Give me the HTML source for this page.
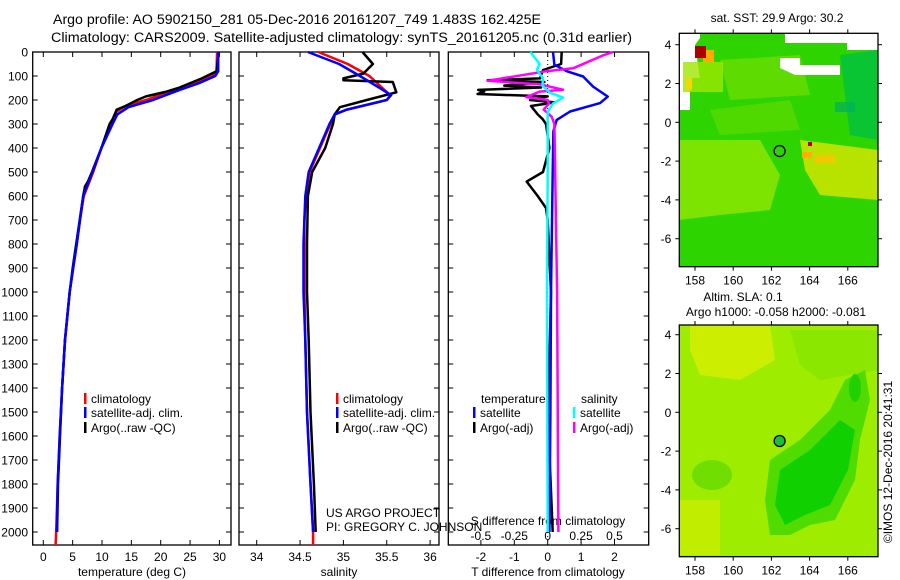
<!DOCTYPE html>
<html><head><meta charset="utf-8">
<style>
html,body{margin:0;padding:0;background:#fff;}
svg{display:block;font-family:"Liberation Sans",sans-serif;}
</style></head>
<body>
<svg id="fig" width="900" height="580" viewBox="0 0 900 580">
<text x="53" y="24" font-size="13.5" textLength="488" lengthAdjust="spacingAndGlyphs">Argo profile: AO 5902150_281 05-Dec-2016 20161207_749 1.483S 162.425E</text>
<text x="51" y="42" font-size="13.5" textLength="581" lengthAdjust="spacingAndGlyphs">Climatology: CARS2009. Satellite-adjusted climatology: synTS_20161205.nc (0.31d earlier)</text>
<g id="maps"></g>
<g id="plots"></g>
</svg>
<script>
// ---------- data ----------
const tempClimDepth = [0,80,100,130,160,200,225,250,300,400,500,600,700,800,900,1000,1200,1400,1600,1800,2000,2054];
const tempClimVal   = [29.6,29.5,28.8,26,22,17.5,14,12.4,11.7,9.9,8.5,6.9,6.25,5.7,5.1,4.5,3.7,3.2,2.8,2.45,2.2,2.1];
const tempSatDepth  = [0,80,100,130,160,200,230,260,300,400,500,600,700,800,900,1000,1200,1400,1600,1800,2000];
const tempSatVal    = [29.8,29.8,29.3,26.5,23,18.7,14.5,12.6,11.8,9.9,8.4,6.8,6.25,5.7,5.1,4.5,3.7,3.2,2.8,2.45,2.3];
const tempArgoDepth = [0,80,110,125,150,165,185,200,225,240,280,300,400,500,540,560,600,700,800,900,1000,1200,1400,1600,1800,2000];
const tempArgoVal   = [29.9,29.5,27,25.5,23,21,17.5,16,14,12.5,11.8,11.3,9.9,8.3,7.6,7.1,6.8,6.2,5.6,5.0,4.5,3.7,3.2,2.85,2.5,2.35];

const salClimDepth = [0,50,100,150,180,200,240,260,300,400,500,600,700,800,1000,1200,1500,1800,2000,2054];
const salClimVal   = [34.71,35.05,35.3,35.45,35.54,35.5,35.04,34.9,34.85,34.73,34.61,34.57,34.55,34.55,34.55,34.56,34.58,34.62,34.65,34.65];
const salSatDepth  = [0,50,100,150,180,200,240,260,300,400,500,600,700,800,1000,1200,1500,1800,2000];
const salSatVal    = [34.59,34.95,35.19,35.42,35.55,35.5,35.04,34.9,34.84,34.72,34.6,34.56,34.55,34.54,34.54,34.56,34.58,34.62,34.65];
const salArgoDepth = [0,50,90,110,118,125,168,200,230,260,300,400,500,600,800,1000,1200,1500,1800,2000];
const salArgoVal   = [35.22,35.34,35.23,35.0,35.0,35.57,35.61,35.27,34.96,34.9,34.88,34.79,34.64,34.59,34.58,34.58,34.6,34.62,34.66,34.68];

const dTSatDepth = [0,53,80,102,144,186,213,248,283,330,500,1000,1500,2000];
const dTSatVal   = [0.16,0.2,0.57,1.06,1.36,1.8,1.57,0.67,0.27,0.17,0.15,0.1,0.08,0.05];
const dTArgoDepth = [0,50,75,110,118,125,140,148,158,165,175,185,200,210,225,260,280,300,400,500,540,600,650,700,1000,1300,1500,2000];
const dTArgoVal   = [0.42,0.4,-0.14,-0.23,-1.8,-0.1,-1.3,-0.2,-2.08,-1.9,-2.1,0.0,-0.53,0.22,-0.5,-0.3,-0.15,-0.05,0.05,-0.14,-0.63,-0.3,-0.05,0.0,0.1,0.05,0.0,0.15];
const dSSatDepth = [0,50,75,110,140,170,190,215,250,300,500,1000,2000];
const dSSatVal   = [-0.13,-0.06,-0.08,-0.035,-0.04,0.017,0.115,0.04,0.0,0.0,0.0,-0.005,0.0];
const dSArgoDepth = [0,15,68,80,120,135,157,165,188,200,215,240,270,300,1000,2000];
const dSArgoVal   = [0.49,0.41,0.19,-0.01,-0.45,-0.06,0.115,-0.06,-0.16,0.0,0.01,-0.03,0.03,0.05,0.07,0.08];

const depthTicks = [0,100,200,300,400,500,600,700,800,900,1000,1100,1200,1300,1400,1500,1600,1700,1800,1900,2000];
const tempTicks = [0,5,10,15,20,25,30];
const salTicks = [34,34.5,35,35.5,36];
const salTickLabels = ["34","34.5","35","35.5","36"];
const dTTicks = [-2,-1,0,1,2];
const dSTicks = [-0.5,-0.25,0,0.25,0.5];
const dSTickLabels = ["-0.5","-0.25","0","0.25","0.5"];
const lonTicks = [158,160,162,164,166];
const latTicks = [4,2,0,-2,-4,-6];

// ---------- helpers ----------
const NS = "http://www.w3.org/2000/svg";
const plots = document.getElementById('plots');
const maps = document.getElementById('maps');
function mk(tag, attrs, parent){ const e=document.createElementNS(NS,tag); for(const k in attrs) e.setAttribute(k,attrs[k]); (parent||plots).appendChild(e); return e; }
function txt(x,y,s,size,anchor,parent){ const t=mk('text',{x:x,y:y,'font-size':size,'text-anchor':anchor||'middle'},parent); t.textContent=s; return t; }
const yD = d => 52 + d*0.24;
const xT = v => 43.3 + v*5.87;
const xS = v => 256.7 + (v-34)*86.7;
const xDT = v => 547.7 + v*33.4;
const xDS = v => 547.7 + v*133.6;

function series(depths, vals, xf, color, w, name){
  let d='';
  for(let i=0;i<depths.length;i++){ d += (i?'L':'M') + xf(vals[i]).toFixed(1) + ' ' + yD(depths[i]).toFixed(1); }
  const p = mk('path',{d:d,fill:'none',stroke:color,'stroke-width':w,'stroke-linejoin':'round'});
  
  
  return p;
}
function frame(x0,x1,name){
  const r = mk('rect',{x:x0,y:52,width:x1-x0,height:493,fill:'none',stroke:'#000','stroke-width':1.3});
  
  
  depthTicks.forEach(d=>{ const y=yD(d);
    mk('line',{x1:x0,y1:y,x2:x0+5,y2:y,stroke:'#000'}); mk('line',{x1:x1-5,y1:y,x2:x1,y2:y,stroke:'#000'}); });
}
function xticks(vals, xf, top){
  vals.forEach(v=>{ const x=xf(v);
    mk('line',{x1:x,y1:545,x2:x,y2:540,stroke:'#000'});
    if(top) mk('line',{x1:x,y1:52,x2:x,y2:57,stroke:'#000'}); });
}

// ---------- panel 1 ----------
frame(32.7,231,'temperature-panel');
depthTicks.forEach(d=>{ const t=txt(28,yD(d)+4.5,String(d),12,'end');   });
xticks(tempTicks,xT,true);
tempTicks.forEach(v=>{ const t=txt(xT(v),561,String(v),12);   });
txt(132,576,'temperature (deg C)',12);
series(tempClimDepth,tempClimVal,xT,'#f00',2.5,'temp-climatology-line');
series(tempArgoDepth,tempArgoVal,xT,'#000',2.5,'temp-argo-line');
series(tempSatDepth,tempSatVal,xT,'#00f',2.5,'temp-satellite-line');

// ---------- panel 2 ----------
frame(239,439,'salinity-panel');
xticks(salTicks,xS,true);
salTicks.forEach((v,i)=>{ const t=txt(xS(v),561,salTickLabels[i],12);   });
txt(339,576,'salinity',12);
series(salClimDepth,salClimVal,xS,'#f00',2.5,'sal-climatology-line');
series(salArgoDepth,salArgoVal,xS,'#000',2.5,'sal-argo-line');
series(salSatDepth,salSatVal,xS,'#00f',2.5,'sal-satellite-line');

// ---------- panel 3 ----------
frame(448.3,648.7,'difference-panel');
xticks(dTTicks,xDT,false);
dSTicks.forEach(v=>{ const x=xDS(v); mk('line',{x1:x,y1:52,x2:x,y2:57,stroke:'#000'}); });
dTTicks.forEach(v=>{ const t=txt(xDT(v),561,String(v),12);   });
dSTicks.forEach((v,i)=>{ const t=txt(xDS(v),540,dSTickLabels[i],12);   });
txt(548,576,'T difference from climatology',12);
txt(548,525,'S difference from climatology',12);
mk('line',{x1:xDT(0),y1:52,x2:xDT(0),y2:545,stroke:'#000','stroke-width':1,'stroke-dasharray':'1,3'});
series(dTArgoDepth,dTArgoVal,xDT,'#000',2.5,'tdiff-argo-line');
series(dTSatDepth,dTSatVal,xDT,'#00f',2.5,'tdiff-satellite-line');
series(dSArgoDepth,dSArgoVal,xDS,'#f0f',2.5,'sdiff-argo-line');
series(dSSatDepth,dSSatVal,xDS,'#0ff',2.5,'sdiff-satellite-line');

// ---------- legends ----------
function legItem(x,y,color,label,name){
  const g = mk('g',{});
  
  
  mk('rect',{x:x,y:y-10,width:2.5,height:11,fill:color},g);
  txt(x+7,y,label,12,'start',g);
}
legItem(84,403,'#f00','climatology','legend-climatology');
legItem(84,417,'#00f','satellite-adj. clim.','legend-satellite-adj');
legItem(84,432,'#000','Argo(..raw -QC)','legend-argo');
legItem(336,403,'#f00','climatology','legend-climatology-2');
legItem(336,417,'#00f','satellite-adj. clim.','legend-satellite-adj-2');
legItem(336,432,'#000','Argo(..raw -QC)','legend-argo-2');
txt(481,403,'temperature',12,'start');
txt(581,403,'salinity',12,'start');
legItem(473,417,'#00f','satellite','legend-temp-satellite');
legItem(473,432,'#000','Argo(-adj)','legend-temp-argo');
legItem(573,417,'#0ff','satellite','legend-sal-satellite');
legItem(573,432,'#f0f','Argo(-adj)','legend-sal-argo');
txt(326,517,'US ARGO PROJECT',12,'start');
txt(326,531,'PI: GREGORY C. JOHNSON',12,'start');

// ---------- maps ----------
const MX0=679.3, MX1=878, MW=MX1-MX0;
const lonX = v => 695 + (v-158)*19.1;
function mapPanel(top, bottom, lat0y, name, drawFill){
  const g = mk('g',{},maps);
  
  
  drawFill(g);
  mk('rect',{x:MX0,y:top,width:MW,height:bottom-top,fill:'none',stroke:'#000','stroke-width':1.3},g);
  const latY = v => lat0y - v*19.4;
  lonTicks.forEach(v=>{ const x=lonX(v);
    mk('line',{x1:x,y1:top,x2:x,y2:top-4,stroke:'#000'},g); mk('line',{x1:x,y1:bottom,x2:x,y2:bottom+4,stroke:'#000'},g);
    txt(x,bottom+18,String(v),12,'middle',g); });
  latTicks.forEach(v=>{ const y=latY(v);
    mk('line',{x1:MX0,y1:y,x2:MX0-4,y2:y,stroke:'#000'},g); mk('line',{x1:MX1,y1:y,x2:MX1+4,y2:y,stroke:'#000'},g);
    txt(MX0-8,y+4.5,String(v),12,'end',g); });
  return latY;
}
mapPanel(33.3,266.7,122.3,'sst-map',g=>{
  mk('rect',{x:MX0,y:33.3,width:MW,height:233.4,fill:'#2ed400'},g);
  mk('path',{d:'M679 140 L760 140 L780 175 L770 210 L720 215 L679 220 Z',fill:'#8ae600',opacity:0.85},g);
  mk('path',{d:'M800 140 L878 150 L878 200 L820 195 L805 170 Z',fill:'#c8e400',opacity:0.9},g);
  mk('path',{d:'M840 55 L878 50 L878 140 L850 135 Z',fill:'#00c040',opacity:0.8},g);
  mk('path',{d:'M710 110 L790 100 L800 130 L720 135 Z',fill:'#60dc00',opacity:0.7},g);
  mk('path',{d:'M720 60 L800 55 L810 95 L730 100 Z',fill:'#7ee000',opacity:0.6},g);
  mk('path',{d:'M679 33.3 L878 33.3 L878 50 L847 50 L847 43 L785 43 L785 33.3 L700 33.3 L700 38 L695 45 L700 78 L690 78 L690 110 L679 110 Z',fill:'#fff'},g);
  mk('path',{d:'M785 33.3 L830 33.3 L830 40 L785 40 Z',fill:'#fff'},g);
  mk('path',{d:'M780 58 L800 58 L800 65 L840 65 L840 75 L795 75 L780 68 Z',fill:'#fff'},g);
  mk('rect',{x:683,y:62,width:40,height:30,fill:'#9ee600',opacity:0.8},g);
  mk('rect',{x:686,y:78,width:6,height:12,fill:'#f0d800'},g);
  mk('rect',{x:703,y:50,width:11,height:12,fill:'#ffaa00'},g);
  mk('rect',{x:695,y:46,width:11,height:12,fill:'#aa0000'},g);
  mk('rect',{x:802,y:152,width:10,height:6,fill:'#ffb000'},g);
  mk('rect',{x:808,y:142,width:4,height:4,fill:'#aa0000'},g);
  mk('rect',{x:815,y:155,width:20,height:8,fill:'#f4c800'},g);
  mk('rect',{x:835,y:102,width:20,height:10,fill:'#00b060',opacity:0.7},g);
  mk('circle',{cx:lonX(162.43),cy:122.3+1.483*19.4,r:5.5,fill:'none',stroke:'#000','stroke-width':1.3},g);
});
mapPanel(325,556.7,412.3,'sla-map',g=>{
  mk('rect',{x:MX0,y:325,width:MW,height:231.7,fill:'#9eec00'},g);
  mk('path',{d:'M690 325 L770 325 L775 360 L740 380 L700 375 L690 350 Z',fill:'#d0ee00',opacity:0.9},g);
  mk('path',{d:'M680 500 L720 500 L720 555 L680 555 Z',fill:'#c8ee00',opacity:0.8},g);
  mk('path',{d:'M790 330 L878 330 L878 370 L820 380 L800 365 Z',fill:'#7ee400',opacity:0.6},g);
  mk('path',{d:'M765 500 L770 460 L800 440 L830 410 L845 380 L865 370 L870 400 L860 440 L855 480 L835 520 L810 525 L790 535 L770 535 Z',fill:'#50dc00'},g);
  mk('path',{d:'M775 505 L780 470 L810 450 L840 420 L855 430 L848 470 L830 505 L805 515 L785 525 Z',fill:'#10d000'},g);
  mk('ellipse',{cx:855,cy:388,rx:6,ry:14,fill:'#20d000'},g);
  mk('ellipse',{cx:712,cy:475,rx:20,ry:15,fill:'#70de00'},g);
  mk('circle',{cx:lonX(162.43),cy:441,r:5.5,fill:'#18c040',stroke:'#000','stroke-width':1.3},g);
});
txt(777,22,'sat. SST: 29.9 Argo: 30.2',12);
txt(743,301,'Altim. SLA: 0.1',12);
txt(776,316,'Argo h1000: -0.058 h2000: -0.081',12);
const ts = txt(0,0,'©IMOS 12-Dec-2016 20:41:31',12);
ts.setAttribute('transform','translate(892,462) rotate(-90)');


</script>
</body></html>
